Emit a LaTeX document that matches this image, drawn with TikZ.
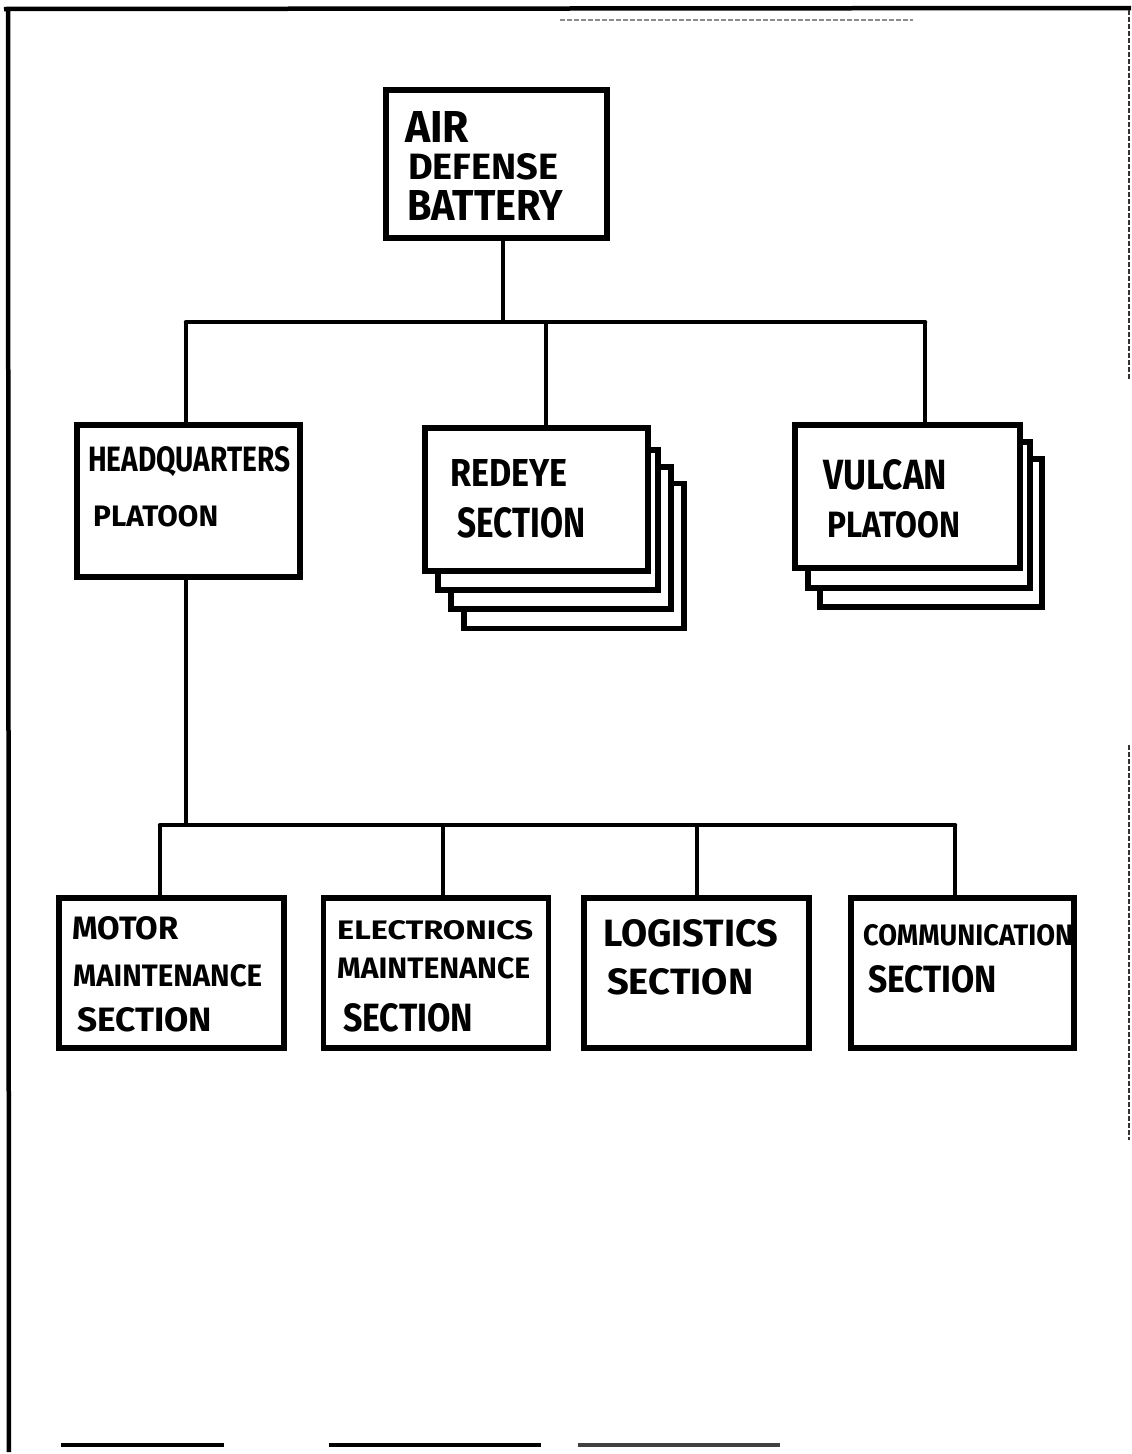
\documentclass[tikz,border=0pt]{standalone}
\usepackage{fontspec}
\setmainfont{Fira Sans}
\usepackage{graphicx}
\newcommand{\hand}[3]{\resizebox{#1pt}{#2pt}{\bfseries #3}}
\begin{document}
\begin{tikzpicture}[x=1pt,y=-1pt,
  box/.style={draw, line width=5.5pt, fill=white, inner sep=0pt, minimum width=#1},
  box/.default=223pt,
  conn/.style={line width=4.5pt},
  lbl/.style={inner sep=0pt, anchor=south west},
  frame/.style={line width=4.5pt},
  faint/.style={line width=2pt, dash pattern=on 5pt off 2pt}]
\useasboundingbox (0,0) rectangle (1132,1454);

% frame
\draw[frame] (4,9) -- (1131,8);
\draw[faint, black!45] (560,20) -- (913,20);
\draw[frame] (8,9) -- (9,1452);
\draw[line width=3.5pt] (61,1445) -- (224,1445);
\draw[line width=3.5pt] (329,1445) -- (541,1445);
\draw[line width=3.5pt, black!75] (578,1445) -- (780,1445);
\draw[faint, black!80] (1129,10) -- (1129,380);
\draw[faint, black!80] (1129,745) -- (1129,1140);

% top box
\node[box=221pt, minimum height=148pt] (adb) at (496.5,164) {};
\node[lbl] (adb1) at (405,143) {\hand{64}{31}{AIR}};
\node[lbl] (adb2) at (408,180) {\hand{150}{26}{DEFENSE}};
\node[lbl] (adb3) at (407,221) {\hand{156}{30}{BATTERY}};

% second level
\node[box=223pt, minimum height=152pt] (hq) at (188.5,501) {};
\node[lbl] (hq1) at (88,477) {\hand{202}{25}{HEADQUARTERS}};
\node[lbl] (hq2) at (93,527) {\hand{125}{21}{PLATOON}};

\node[box=220pt, minimum height=145pt] (red4) at (574,556) {};
\node[box=220pt, minimum height=142pt] (red3) at (561,538) {};
\node[box=220pt, minimum height=140pt] (red2) at (548,520) {};
\node[box=223pt, minimum height=143pt] (red) at (536.5,499.5) {};
\node[lbl] (red1t) at (450,487) {\hand{117}{27}{REDEYE}};
\node[lbl] (red2t) at (457,538) {\hand{128}{30}{SECTION}};

\node[box=222pt, minimum height=148pt] (vul3) at (931,533) {};
\node[box=222pt, minimum height=146pt] (vul2) at (919,515) {};
\node[box=225pt, minimum height=143pt] (vul) at (907.5,496.5) {};
\node[lbl] (vul1t) at (823,490) {\hand{124}{30}{VULCAN}};
\node[lbl] (vul2t) at (827,538) {\hand{133}{26}{PLATOON}};

% bottom level
\node[box=225pt, minimum height=150pt] (mot) at (171.5,973) {};
\node[lbl] (mot1) at (72,940) {\hand{106}{23}{MOTOR}};
\node[lbl] (mot2) at (73,987) {\hand{189}{22}{MAINTENANCE}};
\node[lbl] (mot3) at (77,1032) {\hand{135}{24}{SECTION}};

\node[box=225pt, minimum height=150pt] (ele) at (436,973) {};
\node[lbl] (ele1) at (337,940) {\hand{196}{19}{ELECTRONICS}};
\node[lbl] (ele2) at (337,979) {\hand{193}{21}{MAINTENANCE}};
\node[lbl] (ele3) at (343,1032) {\hand{130}{28}{SECTION}};

\node[box=225pt, minimum height=150pt] (log) at (696.5,973) {};
\node[lbl] (log1) at (603,947) {\hand{175}{27}{LOGISTICS}};
\node[lbl] (log2) at (607,995) {\hand{146}{26}{SECTION}};

\node[box=223pt, minimum height=150pt] (com) at (962.5,973) {};
\node[lbl] (com1) at (863,946) {\hand{210}{21}{COMMUNICATION}};
\node[lbl] (com2) at (868,993) {\hand{129}{27}{SECTION}};

% connectors upper
\coordinate (j1) at (503,322);
\coordinate (bl) at (186,322);
\coordinate (bm) at (546,322);
\coordinate (br) at (925,322);
\draw[conn] (adb.south -| j1) -- (j1);
\draw[conn, line cap=round] (bl) -- (br);
\draw[conn] (bl) -- (hq.north -| bl);
\draw[conn] (bm) -- (red.north -| bm);
\draw[conn] (br) -- (vul.north -| br);

% connectors lower
\coordinate (j2) at (186,825);
\coordinate (cl) at (160,825);
\coordinate (c2) at (443,825);
\coordinate (c3) at (697,825);
\coordinate (cr) at (955,825);
\draw[conn] (hq.south -| j2) -- (j2);
\draw[conn, line cap=round] (cl) -- (cr);
\draw[conn] (cl) -- (mot.north -| cl);
\draw[conn] (c2) -- (ele.north -| c2);
\draw[conn] (c3) -- (log.north -| c3);
\draw[conn] (cr) -- (com.north -| cr);
\end{tikzpicture}
\end{document}
